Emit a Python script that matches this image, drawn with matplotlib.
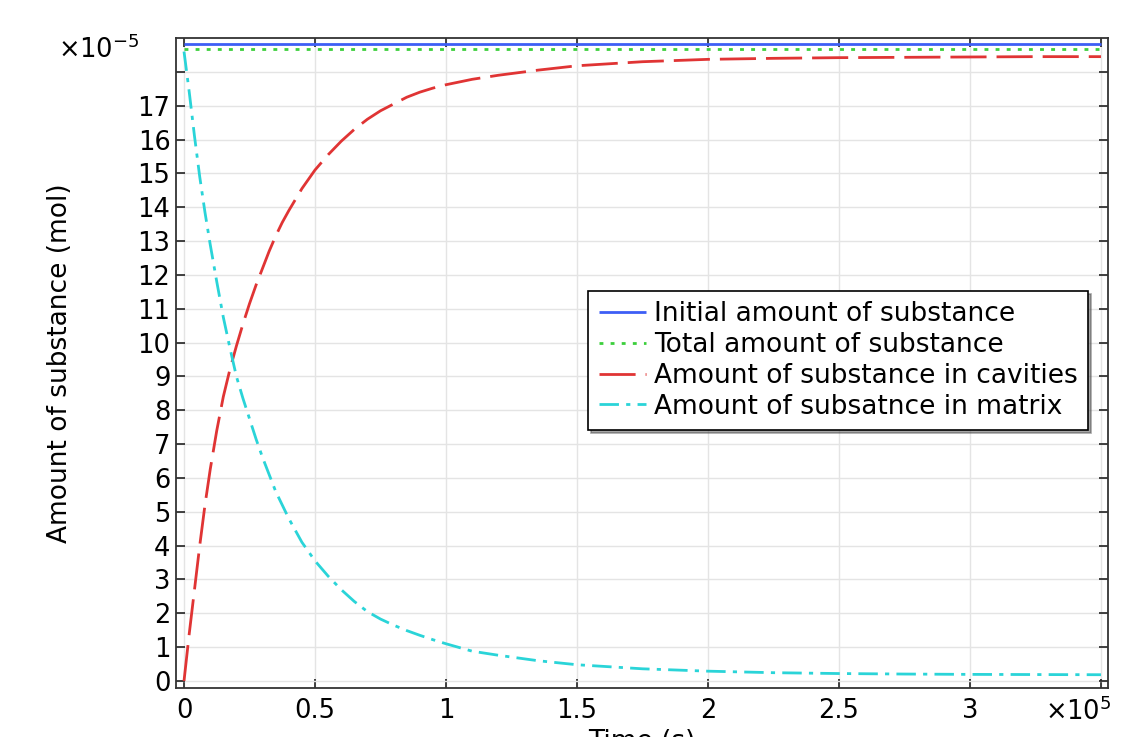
import numpy as np
import matplotlib
matplotlib.use('Agg')
import matplotlib.pyplot as plt

# time in units of 1e5 s, amounts in units of 1e-5 mol
t = [0, 0.01, 0.02, 0.03, 0.04, 0.06, 0.08, 0.10, 0.125, 0.15, 0.175, 0.20,
     0.225, 0.25, 0.275, 0.30, 0.325, 0.35, 0.375, 0.40, 0.45, 0.50, 0.55,
     0.60, 0.65, 0.70, 0.75, 0.80, 0.85, 0.90, 0.95, 1.0, 1.1, 1.2, 1.35,
     1.5, 1.75, 2.0, 2.25, 2.5, 2.75, 3.0, 3.25, 3.5]

cavities = [0, 0.7, 1.4, 2.05, 2.7, 4.0, 5.2, 6.25, 7.4, 8.4, 9.2, 9.9,
            10.55, 11.15, 11.7, 12.2, 12.7, 13.15, 13.55, 13.9, 14.55, 15.1,
            15.55, 15.95, 16.3, 16.6, 16.85, 17.05, 17.25, 17.4, 17.52, 17.62,
            17.78, 17.9, 18.05, 18.18, 18.3, 18.37, 18.4, 18.42, 18.43, 18.44,
            18.45, 18.45]

matrix = [18.6, 18.0, 17.4, 16.75, 16.1, 14.9, 13.85, 12.9, 11.8, 10.75, 9.85,
          9.0, 8.35, 7.75, 7.15, 6.6, 6.1, 5.6, 5.2, 4.8, 4.1, 3.55, 3.1, 2.7,
          2.35, 2.05, 1.83, 1.65, 1.49, 1.35, 1.22, 1.1, 0.88, 0.76, 0.6,
          0.48, 0.36, 0.29, 0.245, 0.22, 0.205, 0.195, 0.19, 0.185]

initial_amount = 18.82
total_amount = 18.67

xticks = [0, 0.5, 1, 1.5, 2, 2.5, 3, 3.5]
xticklabels = ['0', '0.5', '1', '1.5', '2', '2.5', '3', '']
yticks = list(range(0, 19))
yticklabels = [str(v) for v in range(0, 18)] + ['']

plt.rcParams['font.family'] = 'DejaVu Sans'

fig = plt.figure(figsize=(11.24, 7.37), dpi=100)
ax = fig.add_axes([0.1566, 0.0665, 0.8292, 0.8819])

ax.plot([t[0], t[-1]], [initial_amount, initial_amount], color='#3d5ef5',
        lw=2.0, solid_capstyle='butt', label='Initial amount of substance')
ax.plot([t[0], t[-1]], [total_amount, total_amount], color='#3ccf3c',
        lw=2.0, linestyle=(0, (1.4, 2.6)), label='Total amount of substance')
ax.plot(t, cavities, color='#e03434', lw=2.0, linestyle=(0, (13, 3.6)),
        solid_joinstyle='round', label='Amount of substance in cavities')
ax.plot(t, matrix, color='#2ad4d8', lw=2.0, linestyle=(0, (7, 2.6, 1.5, 2.6)),
        label='Amount of subsatnce in matrix')

ax.set_xlim(-0.0305, 3.527)
ax.set_ylim(-0.207, 19.0)
ax.set_xticks(xticks)
ax.set_xticklabels(xticklabels)
ax.set_yticks(yticks)
ax.set_yticklabels(yticklabels)
ax.grid(True, color='#e4e4e4', lw=1.0)
ax.set_axisbelow(True)

ax.tick_params(direction='in', length=6.5, width=1.2, labelsize=18.5,
               top=True, right=True, color='#222222', labelcolor='black')
ax.tick_params(axis='x', pad=7)
ax.tick_params(axis='y', pad=4)
for s in ax.spines.values():
    s.set_color('#333333')
    s.set_linewidth(1.3)

ax.set_ylabel('Amount of substance (mol)', fontsize=19)
ax.yaxis.set_label_coords(-0.111, 0.5)
ax.set_xlabel('Time (s)', fontsize=19, va='center')
ax.xaxis.set_label_coords(0.5, -0.083)

ax.text(-0.083, 0.982, '×10$^{-5}$', transform=ax.transAxes, fontsize=18.5,
        ha='center', va='center')
ax.text(0.968, -0.037, '×10$^{5}$', transform=ax.transAxes, fontsize=18.5,
        ha='center', va='center')

leg = ax.legend(loc='upper left', bbox_to_anchor=(0.442, 0.611),
                fontsize=19, frameon=True, fancybox=False, shadow=True,
                edgecolor='black', framealpha=1, borderpad=0.4,
                labelspacing=0.18, handlelength=1.8, handletextpad=0.3,
                borderaxespad=0)
leg.get_frame().set_linewidth(1.2)

fig.savefig('out.png', dpi=100)
